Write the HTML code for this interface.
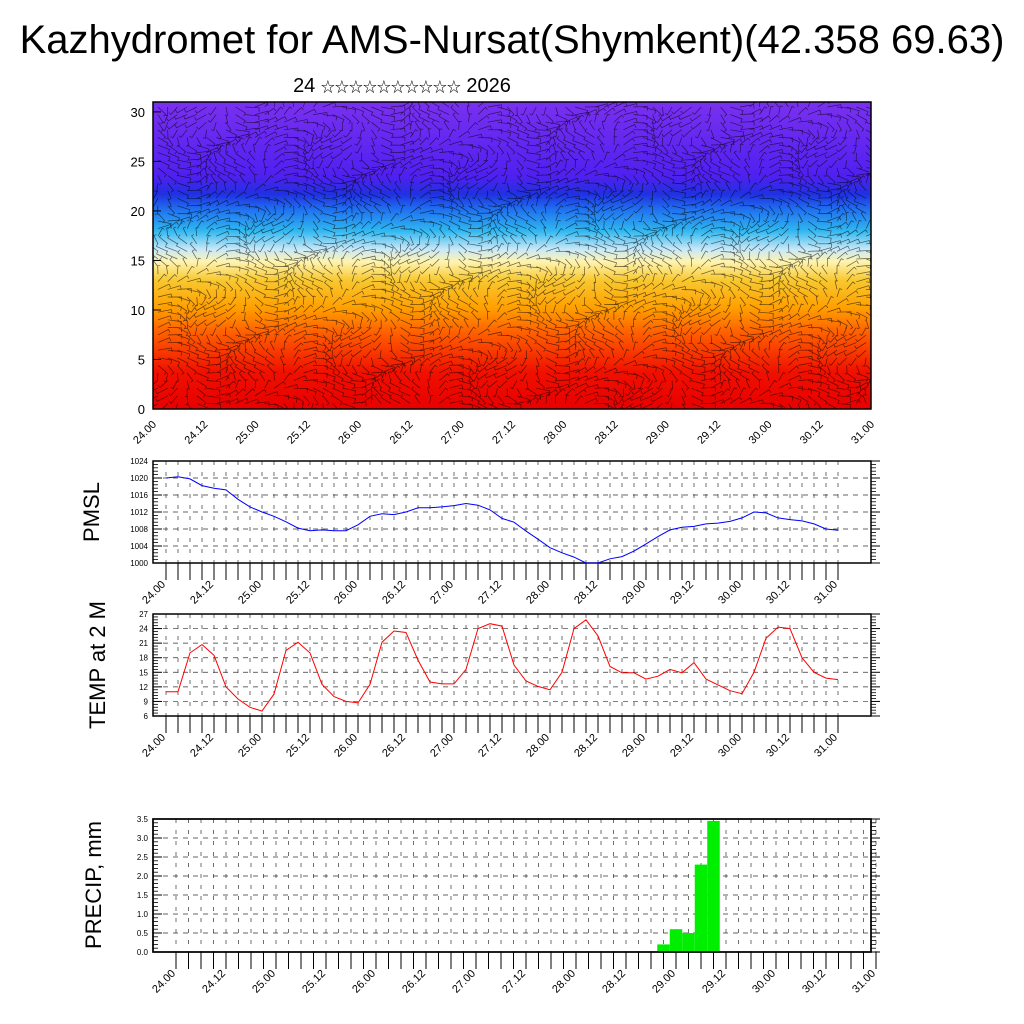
<!DOCTYPE html>
<html><head><meta charset="utf-8"><style>
html,body{margin:0;padding:0;background:#fff;}
svg{display:block;font-family:"Liberation Sans","Noto Sans CJK SC",sans-serif;}
</style></head><body>
<svg id="chart" width="1024" height="1024" viewBox="0 0 1024 1024" xmlns="http://www.w3.org/2000/svg">
<defs>
<linearGradient id="tg" x1="0" y1="1" x2="0" y2="0">
<stop offset="0" stop-color="#e80000"/>
<stop offset="0.12" stop-color="#f01000"/>
<stop offset="0.25" stop-color="#ff6000"/>
<stop offset="0.33" stop-color="#ffa000"/>
<stop offset="0.42" stop-color="#f8c830"/>
<stop offset="0.48" stop-color="#fff4b0"/>
<stop offset="0.52" stop-color="#c8e8f8"/>
<stop offset="0.58" stop-color="#30b8f0"/>
<stop offset="0.65" stop-color="#2070f0"/>
<stop offset="0.70" stop-color="#2030e0"/>
<stop offset="0.76" stop-color="#5020f0"/>
<stop offset="1" stop-color="#7a30f0"/>
</linearGradient>
<clipPath id="topclip"><rect x="153" y="102" width="718" height="307"/></clipPath>
</defs>
<text x="512" y="53" font-size="40" text-anchor="middle">Kazhydromet for AMS-Nursat(Shymkent)(42.358 69.63)</text>
<text x="402" y="92" font-size="20" text-anchor="middle">24 <tspan font-size="14">☆☆☆☆☆☆☆☆☆☆</tspan> 2026</text>
<g id="top"></g>
<g id="pmsl"></g>
<g id="temp"></g>
<g id="precip"></g>
<text transform="translate(99,512) rotate(-90)" font-size="22" text-anchor="middle">PMSL</text>
<text transform="translate(105,665) rotate(-90)" font-size="22" text-anchor="middle">TEMP at 2 M</text>
<text transform="translate(101,885) rotate(-90)" font-size="22" text-anchor="middle">PRECIP, mm</text>
</svg>
<script>
const timeLabels=["24.00","24.12","25.00","25.12","26.00","26.12","27.00","27.12","28.00","28.12","29.00","29.12","30.00","30.12","31.00"];
const pmslValues=[1020,1020.3,1019.8,1018.2,1017.6,1017.2,1015,1013.2,1012,1011,1009.7,1008.2,1007.6,1007.8,1007.6,1007.6,1009,1011,1011.6,1011.4,1012,1013,1013,1013.2,1013.5,1014,1013.6,1012.5,1010.5,1009.6,1007.5,1005.6,1003.6,1002.4,1001.4,1000,1000,1001,1001.5,1002.8,1004.5,1006.2,1007.8,1008.4,1008.6,1009.2,1009.4,1009.8,1010.6,1012,1011.8,1010.6,1010.2,1009.9,1009.2,1008,1007.7];
const tempValues=[11,11,19,20.7,18.5,12,9.5,7.8,7,10.5,19.5,21.2,19,12.5,10,9,8.7,12.5,21.2,23.5,23.2,17.5,13,12.6,12.6,15.6,24,25,24.5,16.5,13.2,12.1,11.4,15,24,25.8,22.5,16.2,14.9,14.9,13.6,14.2,15.6,14.9,17,13.6,12.4,11.2,10.6,15,22,24.3,24,18,15,13.8,13.5];
const precipValues=[];for(let i=0;i<57;i++)precipValues.push(0);
const precipNonZero={39:0.2,40:0.6,41:0.5,42:2.3,43:3.45,44:0.02};
for(const k in precipNonZero)precipValues[k]=precipNonZero[k];
const pmslTicks=[1000,1004,1008,1012,1016,1020,1024];
const tempTicks=[6,9,12,15,18,21,24,27];
const precipTicks=[0,0.5,1,1.5,2,2.5,3,3.5];
const heightTicks=[0,5,10,15,20,25,30];

const NS="http://www.w3.org/2000/svg";
function mk(parent,tag,attrs){const e=document.createElementNS(NS,tag);for(const k in attrs)e.setAttribute(k,attrs[k]);parent.appendChild(e);return e;}

function panel(g,opt){
  const {L,R,T,B,x0,x1,ymin,ymax,ticks,fs,name}=opt;
  const xs=h=>x0+(x1-x0)*h/168;
  const ys=v=>B-(B-T)*(v-ymin)/(ymax-ymin);
  for(let h=0;h<=168;h+=3){const gl=mk(g,'line',{x1:xs(h),x2:xs(h),y1:T,y2:B,stroke:'#333','stroke-width':0.7,'stroke-dasharray':'4,7'});
    }
  ticks.forEach(v=>{const gl=mk(g,'line',{x1:L,x2:R,y1:ys(v),y2:ys(v),stroke:'#333','stroke-width':0.7,'stroke-dasharray':'5,5'});
    });
  const fr=mk(g,'rect',{x:L,y:T,width:R-L,height:B-T,fill:'none',stroke:'#000','stroke-width':1.5});
  
  for(let h=0;h<=168;h+=3){const t=mk(g,'line',{x1:xs(h),x2:xs(h),y1:B,y2:B+17,stroke:'#000','stroke-width':1});
    }
  timeLabels.forEach((lb,i)=>{const x=xs(i*12),y=B+22;
    const t=mk(g,'text',{x:x,y:y,'font-size':11,'text-anchor':'end',transform:`rotate(-45 ${x} ${y})`});t.textContent=lb;
    });
  ticks.forEach(v=>{const t=mk(g,'text',{x:L-5,y:ys(v)+3,'font-size':fs,'text-anchor':'end'});t.textContent=opt.fmt?opt.fmt(v):v;
    
    mk(g,'line',{x1:L,x2:L+9,y1:ys(v),y2:ys(v),stroke:'#000'});mk(g,'line',{x1:R,x2:R+9,y1:ys(v),y2:ys(v),stroke:'#000'});});
  for(let i=0;i<ticks.length-1;i++){const a=ticks[i],b=ticks[i+1];for(let k=1;k<5;k++){const v=a+(b-a)*k/5;
    mk(g,'line',{x1:L,x2:L+5,y1:ys(v),y2:ys(v),stroke:'#000','stroke-width':0.8});mk(g,'line',{x1:R,x2:R+5,y1:ys(v),y2:ys(v),stroke:'#000','stroke-width':0.8});}}
  return {xs,ys};
}

(function(){
  const g=document.getElementById('top');
  const L=153,R=871,T=102,B=409;
  const bg=mk(g,'rect',{x:L,y:T,width:R-L,height:B-T,fill:'url(#tg)'});
  
  const ys=v=>B-(B-T)*v/31;
  let d='';
  for(let yi=0;yi<40;yi++){for(let xi=0;xi<74;xi++){
    const x=L+5+xi*9.7,y=T+5+yi*7.6;
    const a=Math.sin(xi*0.37+yi*0.21)*1.6+Math.cos(yi*0.5-xi*0.13);
    const len=14;
    const dx=Math.cos(a)*len,dy=Math.sin(a)*len*0.6;
    d+=`M${x.toFixed(1)} ${y.toFixed(1)}l${dx.toFixed(1)} ${dy.toFixed(1)}l${(-dy*0.3).toFixed(1)} ${(dx*0.3).toFixed(1)}`;
  }}
  const p=mk(g,'path',{d:d,stroke:'#000','stroke-opacity':0.6,'stroke-width':0.7,fill:'none','clip-path':'url(#topclip)'});
  
  const fr=mk(g,'rect',{x:L,y:T,width:R-L,height:B-T,fill:'none',stroke:'#000','stroke-width':1.5});
  
  heightTicks.forEach(v=>{const t=mk(g,'text',{x:L-8,y:ys(v)+5,'font-size':13,'text-anchor':'end'});t.textContent=v;
    
    mk(g,'line',{x1:L,x2:L+8,y1:ys(v),y2:ys(v),stroke:'#000'});});
  timeLabels.forEach((lb,i)=>{const x=L+(R-L)*i*12/168,y=B+16;
    const t=mk(g,'text',{x:x+4,y:y,'font-size':11,'text-anchor':'end',transform:`rotate(-45 ${x+4} ${y})`});t.textContent=lb;
    });
})();

(function(){
  const g=document.getElementById('pmsl');
  const {xs,ys}=panel(g,{L:153,R:871,T:461,B:563,x0:166,x1:838,ymin:1000,ymax:1024,ticks:pmslTicks,fs:8,name:'pmsl'});
  const pts=pmslValues.map((v,i)=>xs(i*3).toFixed(1)+','+ys(v).toFixed(1)).join(' ');
  const l=mk(g,'polyline',{points:pts,fill:'none',stroke:'#0000ff','stroke-width':1});
  
})();

(function(){
  const g=document.getElementById('temp');
  const {xs,ys}=panel(g,{L:153,R:871,T:614,B:716,x0:166,x1:838,ymin:6,ymax:27,ticks:tempTicks,fs:8,name:'temp'});
  const pts=tempValues.map((v,i)=>xs(i*3).toFixed(1)+','+ys(v).toFixed(1)).join(' ');
  const l=mk(g,'polyline',{points:pts,fill:'none',stroke:'#ff0000','stroke-width':1});
  
})();

(function(){
  const g=document.getElementById('precip');
  const bars=mk(g,'g',{});
  const {xs,ys}=panel(g,{L:153,R:871,T:819,B:952,x0:176,x1:876,ymin:0,ymax:3.5,ticks:precipTicks,fs:8,name:'precip',fmt:v=>v.toFixed(1)});
  precipValues.forEach((v,i)=>{if(v<=0)return;
    const w=xs(3)-xs(0);const x=xs(i*3)-w/2;
    const r=mk(bars,'rect',{x:x,y:ys(v),width:w,height:ys(0)-ys(v),fill:'#00ee00'});
    });
  g.appendChild(bars);
  const fr=mk(g,'rect',{x:153,y:819,width:718,height:133,fill:'none',stroke:'#000','stroke-width':1.5});
})();
</script>
</body></html>
